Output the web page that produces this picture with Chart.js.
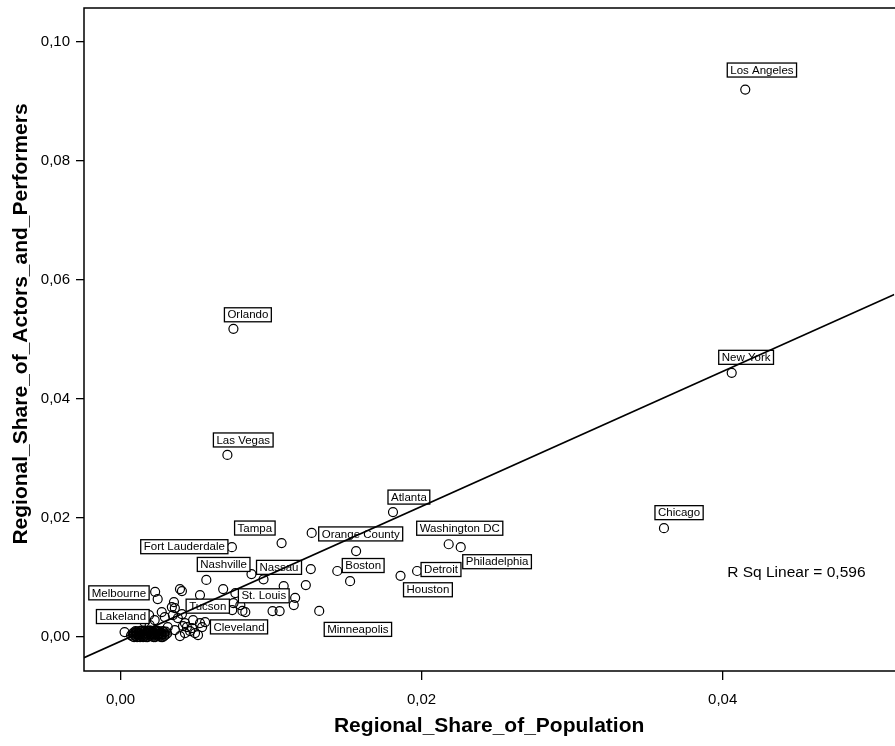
<!DOCTYPE html>
<html>
<head>
<meta charset="utf-8">
<script src="https://cdn.jsdelivr.net/npm/chart.js@4"></script>
<style>
  html, body { margin: 0; padding: 0; background: #fff; overflow: hidden; }
  #wrap { width: 895px; height: 746px; overflow: hidden; }
</style>
</head>
<body>
<div id="wrap"><canvas id="grafico" width="900" height="746"></canvas></div>
<script>
// labelled regions
const cityNames = ['Los Angeles', 'New York', 'Orlando', 'Las Vegas', 'Chicago', 'Atlanta',
  'Washington DC', 'Philadelphia', 'Detroit', 'Houston', 'Orange County', 'Boston',
  'Minneapolis', 'Tampa', 'Fort Lauderdale', 'Nashville', 'Nassau', 'St. Louis',
  'Tucson', 'Cleveland', 'Melbourne', 'Lakeland'];
const cityPop = [0.0415, 0.0406, 0.0075, 0.0071, 0.0361, 0.0181,
  0.0218, 0.0226, 0.0197, 0.0186, 0.0127, 0.0144,
  0.0132, 0.0107, 0.0074, 0.0057, 0.0095, 0.0116,
  0.0075, 0.0081, 0.0023, 0.0019];
const cityActors = [0.0920, 0.0444, 0.0518, 0.0306, 0.0183, 0.0210,
  0.0156, 0.0151, 0.0111, 0.0103, 0.0175, 0.0111,
  0.0044, 0.0158, 0.0151, 0.0096, 0.0097, 0.0066,
  0.0057, 0.0044, 0.0076, 0.0037];

// unlabelled regions [population share, actors share]
const otherRegions = [
  [0.01565, 0.01445], [0.01525, 0.0094], [0.01264, 0.01143], [0.01231, 0.00874],
  [0.0087, 0.01059], [0.00682, 0.00807], [0.00395, 0.00807], [0.01151, 0.00538],
  [0.01084, 0.00857], [0.0101, 0.00437], [0.01057, 0.00437], [0.00763, 0.0074],
  [0.00528, 0.00706], [0.00408, 0.00773], [0.00247, 0.00639], [0.00355, 0.00588],
  [0.00361, 0.00487], [0.00742, 0.00454], [0.00274, 0.0042], [0.00348, 0.0037],
  [0.00408, 0.00387], [0.00428, 0.00235], [0.00542, 0.00168], [0.00428, 0.00067],
  [0.00482, 0.00286], [0.00515, 0.00034], [0.00294, 0.00336], [0.00381, 0.00319],
  [0.00441, 0.00168], [0.00475, 0.00151], [0.00528, 0.00235], [0.00495, 0.00067],
  [0.00415, 0.00185], [0.00462, 0.00101], [0.00562, 0.00252], [0.00796, 0.00538],
  [0.00829, 0.0042], [0.00341, 0.00504], [0.00027, 0.00084], [0.00194, 0.0020],
  [0.00227, 0.00286], [0.0016, 0.0025], [0.00314, 0.00168], [0.00361, 0.00118],
  [0.00395, 0.00017]
];
// dense cluster of small regions near the origin
const smallRegions = [
  [0.0007, 0.0003], [0.0008, 0.0006], [0.0008, 0.0001], [0.0009, 0.0008], [0.0009, 0.0004],
  [0.0010, 0.0002], [0.0010, 0.0007], [0.0011, 0.0005], [0.0011, 0.0009], [0.0012, 0.0001],
  [0.0012, 0.0003], [0.0012, 0.0007], [0.0013, 0.0005], [0.0013, 0.0010], [0.0014, 0.0002],
  [0.0014, 0.0008], [0.0015, 0.0004], [0.0015, 0.0006], [0.0016, 0.0001], [0.0016, 0.0009],
  [0.0017, 0.0003], [0.0017, 0.0007], [0.0018, 0.0005], [0.0018, 0.0010], [0.0019, 0.0002],
  [0.0019, 0.0008], [0.0020, 0.0004], [0.0020, 0.0006], [0.0021, 0.0001], [0.0021, 0.0009],
  [0.0022, 0.0003], [0.0022, 0.0007], [0.0023, 0.0005], [0.0023, 0.0011], [0.0024, 0.0002],
  [0.0024, 0.0008], [0.0025, 0.0004], [0.0025, 0.0006], [0.0026, 0.0001], [0.0026, 0.0009],
  [0.0027, 0.0003], [0.0027, 0.0007], [0.0028, 0.0005], [0.0028, 0.0010], [0.0029, 0.0002],
  [0.0029, 0.0008], [0.0030, 0.0004], [0.0031, 0.0006], [0.0013, 0.0000], [0.0016, 0.0011],
  [0.0018, 0.0000], [0.0020, 0.0011], [0.0023, 0.0000], [0.0025, 0.0010], [0.0027, 0.0000],
  [0.0011, 0.0000], [0.0010, 0.0010], [0.0014, 0.0011], [0.0017, 0.0000], [0.0019, 0.0011],
  [0.0022, 0.0000], [0.0024, 0.0011], [0.0026, 0.0005], [0.0028, 0.0000], [0.0030, 0.0009],
  [0.0015, 0.0000], [0.0021, 0.0005], [0.0009, 0.0000]
];

// linear fit, R Sq = 0,596
const fitSlope = 1.134;
const fitIntercept = -0.00072;
const rSqText = 'R Sq Linear = 0,596';

const xTicks = [0, 0.02, 0.04];
const yTicks = [0, 0.02, 0.04, 0.06, 0.08, 0.10];
const xMin = -0.002425, xMax = 0.0514;
const yMin = -0.0057, yMax = 0.1057;

// label box placement relative to its point: dx, dy of box centre line, which edge dx refers to
const labelOffsets = [
  [-18, -19.5, 'l'], [-13, -15.5, 'l'], [-9, -14, 'l'], [-14, -15, 'l'], [-9, -15.5, 'l'], [-5, -15, 'l'],
  [-32, -16, 'l'], [2, 14.5, 'l'], [4, -1.5, 'l'], [3, 14, 'l'], [7, 1, 'l'], [5, -5.5, 'l'],
  [5, 18.5, 'l'], [-47, -15, 'l'], [-4, -0.5, 'r'], [-9, -15.5, 'l'], [-7, -12, 'l'], [-6, -2, 'r'],
  [-4, 3, 'r'], [-32, 16, 'l'], [-6, 1, 'r'], [0, 1.5, 'r']
];

const FONTE = "'Liberation Sans', Arial, Helvetica, sans-serif";
Chart.defaults.font.family = FONTE;
Chart.defaults.color = '#000';

const fmt = v => Number(v).toFixed(2).replace('.', ',');

const pontos = [];
cityNames.forEach((n, i) => pontos.push({ x: cityPop[i], y: cityActors[i] }));
otherRegions.forEach(p => pontos.push({ x: p[0], y: p[1] }));
smallRegions.forEach(p => pontos.push({ x: p[0], y: p[1] }));

const rotulos = {
  id: 'rotulos',
  afterDatasetDraw(chart, args) {
    if (args.index !== 0) return;
    const ctx = chart.ctx;
    const sx = chart.scales.x, sy = chart.scales.y;
    ctx.save();
    ctx.font = '11.5px ' + FONTE;
    ctx.textBaseline = 'middle';
    cityNames.forEach((nome, i) => {
      const px = sx.getPixelForValue(cityPop[i]);
      const py = sy.getPixelForValue(cityActors[i]);
      const [dx, dy, lado] = labelOffsets[i];
      const w = ctx.measureText(nome).width + 6;
      const h = 14;
      const left = lado === 'r' ? px + dx - w : px + dx;
      const top = py + dy - h / 2;
      ctx.fillStyle = '#fff';
      ctx.fillRect(left, top, w, h);
      ctx.strokeStyle = '#000';
      ctx.lineWidth = 1.3;
      ctx.strokeRect(left, top, w, h);
      ctx.fillStyle = '#000';
      ctx.fillText(nome, left + 3, top + h / 2 + 0.5);
    });
    ctx.restore();
  }
};

const moldura = {
  id: 'moldura',
  afterDatasetsDraw(chart) {
    const { ctx, chartArea: a } = chart;
    ctx.save();
    ctx.strokeStyle = '#000';
    ctx.lineWidth = 1.5;
    // the right edge of the frame falls outside the picture
    ctx.beginPath();
    ctx.moveTo(a.right + 6, a.top);
    ctx.lineTo(a.left, a.top);
    ctx.lineTo(a.left, a.bottom);
    ctx.lineTo(a.right + 6, a.bottom);
    ctx.stroke();
    ctx.font = '15.5px ' + FONTE;
    ctx.textBaseline = 'middle';
    ctx.fillStyle = '#000';
    ctx.fillText(rSqText, chart.scales.x.getPixelForValue(0.0403), chart.scales.y.getPixelForValue(0.0108));
    // y axis title, placed a little above the axis centre as in the original
    ctx.translate(21.5, 324);
    ctx.rotate(-Math.PI / 2);
    ctx.font = 'bold 21px ' + FONTE;
    ctx.textAlign = 'center';
    ctx.fillText('Regional_Share_of_Actors_and_Performers', 0, 0);
    ctx.restore();
  }
};

const semPadding = s => { s.paddingTop = 0; s.paddingBottom = 0; s.paddingLeft = 0; s.paddingRight = 0; };

new Chart(document.getElementById('grafico').getContext('2d'), {
  data: {
    datasets: [
      {
        type: 'scatter',
        data: pontos,
        order: 2,
        pointRadius: 4.5,
        pointHoverRadius: 4.5,
        pointBorderWidth: 1.2,
        pointBackgroundColor: 'rgba(0,0,0,0)',
        pointBorderColor: '#000'
      },
      {
        type: 'line',
        data: [
          { x: xMin, y: fitIntercept + fitSlope * xMin },
          { x: xMax, y: fitIntercept + fitSlope * xMax }
        ],
        order: 1,
        borderColor: '#000',
        borderWidth: 1.6,
        pointRadius: 0,
        fill: false
      }
    ]
  },
  options: {
    responsive: false,
    devicePixelRatio: 1,
    animation: false,
    events: [],
    layout: { padding: { top: 8, right: 2, left: 0, bottom: 0 } },
    plugins: { legend: { display: false }, tooltip: { enabled: false } },
    scales: {
      x: {
        type: 'linear',
        min: xMin,
        max: xMax,
        afterBuildTicks: s => { s.ticks = xTicks.map(v => ({ value: v })); },
        afterFit: s => { s.height = 75; semPadding(s); },
        ticks: { callback: fmt, font: { size: 15 }, color: '#000', padding: 11, maxRotation: 0 },
        grid: { drawOnChartArea: false, drawTicks: true, tickLength: 9, color: '#000', lineWidth: 1.3 },
        border: { display: false },
        title: { display: true, text: 'Regional_Share_of_Population', font: { size: 21, weight: 'bold' }, color: '#000', padding: { top: 0, bottom: 7 } }
      },
      y: {
        type: 'linear',
        min: yMin,
        max: yMax,
        afterBuildTicks: s => { s.ticks = yTicks.map(v => ({ value: v })); },
        afterFit: s => { s.width = 84; semPadding(s); },
        ticks: { callback: fmt, font: { size: 15 }, color: '#000', padding: 6 },
        grid: { drawOnChartArea: false, drawTicks: true, tickLength: 8, color: '#000', lineWidth: 1.3 },
        border: { display: false },
        title: { display: false }
      }
    }
  },
  plugins: [rotulos, moldura]
});
</script>
</body>
</html>
